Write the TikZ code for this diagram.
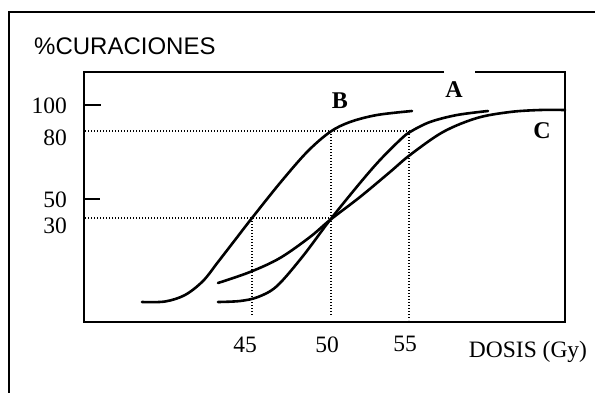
\documentclass[tikz,border=0pt]{standalone}
\usepackage{fontspec}
\setmainfont{Liberation Serif}
\newfontfamily\arialfont{Liberation Sans}
\begin{document}
\begin{tikzpicture}[x=1pt,y=-1pt,
  frame/.style={line width=2pt},
  curve/.style={line width=2.6pt, line cap=round},
  guide/.style={line width=1.3pt, dash pattern=on 1.2pt off 1.8pt},
  num/.style={inner sep=0pt, font=\fontsize{23.5}{23.5}\selectfont},
  letter/.style={inner sep=0pt, anchor=base, font=\fontsize{24}{24}\selectfont\bfseries}]
\useasboundingbox (0,0) rectangle (595,392);
\fill[white] (0,0) rectangle (595,392);
% outer frame
\coordinate (oBL) at (9,393);
\coordinate (oTL) at (9,12);
\coordinate (oTR) at (596,12);
\draw[frame] (oBL) -- (oTL) -- (oTR);
% plot box with gap on top
\coordinate (gapL) at (444,72);
\coordinate (pTL) at (84,72);
\coordinate (pBL) at (84,322);
\coordinate (pBR) at (565,322);
\coordinate (pTR) at (565,72);
\coordinate (gapR) at (475,72);
\draw[frame] (gapL) -- (pTL) -- (pBL) -- (pBR) -- (pTR) -- (gapR);
% ticks
\coordinate (t100a) at (84,105); \coordinate (t100b) at (101,105);
\coordinate (t50a) at (84,199); \coordinate (t50b) at (100,199);
\draw[frame] (t100a) -- (t100b);
\draw[frame] (t50a) -- (t50b);
% dotted guides
\coordinate (h80a) at (85,131); \coordinate (h80b) at (410,131);
\coordinate (h30a) at (85,218); \coordinate (h30b) at (331,218);
\coordinate (v45a) at (252,218); \coordinate (v45b) at (252,316);
\coordinate (v50a) at (331,131); \coordinate (v50b) at (331,316);
\coordinate (v55a) at (409,131); \coordinate (v55b) at (409,320);
\draw[guide] (h80a) -- (h80b);
\draw[guide] (h30a) -- (h30b);
\draw[guide] (v45a) -- (v45b);
\draw[guide] (v50a) -- (v50b);
\draw[guide] (v55a) -- (v55b);
% curves
\draw[curve] plot[smooth, tension=0.55] coordinates {(142,302) (165,301.5) (185,295) (203,281) (218,262) (235,240) (252,218) (280,183) (307,152) (330,132) (350,122) (377,115) (412,111)};
\draw[curve] plot[smooth, tension=0.55] coordinates {(218,302) (240,301) (258,297) (277,286) (303,256) (330,220) (360,183) (380,160) (400,140) (410,132) (430,122) (457,115) (488,111)};
\draw[curve] plot[smooth, tension=0.55] coordinates {(218,283) (250,272) (280,258) (310,237) (330,220) (360,197) (390,172) (410,155) (443,132) (477,118) (510,112) (540,110) (565,110)};
% labels
\node[inner sep=0pt, anchor=base west, font=\arialfont\fontsize{24}{24}\selectfont] (ylab) at (34,54) {\%CURACIONES};
\node[num, anchor=base east] (l100) at (67,113) {100};
\node[num, anchor=base east] (l80) at (67,145) {80};
\node[num, anchor=base east] (l50) at (67,207) {50};
\node[num, anchor=base east] (l30) at (67,233) {30};
\node[num, anchor=base] (l45) at (245,352) {45};
\node[num, anchor=base] (l50x) at (327,352) {50};
\node[num, anchor=base] (l55) at (405,351) {55};
\node[num, anchor=base] (xlab) at (528,357) {DOSIS (Gy)};
\node[letter] (lB) at (340,108) {B};
\node[letter] (lA) at (454,97) {A};
\node[letter] (lC) at (542,138) {C};
\end{tikzpicture}
\end{document}
